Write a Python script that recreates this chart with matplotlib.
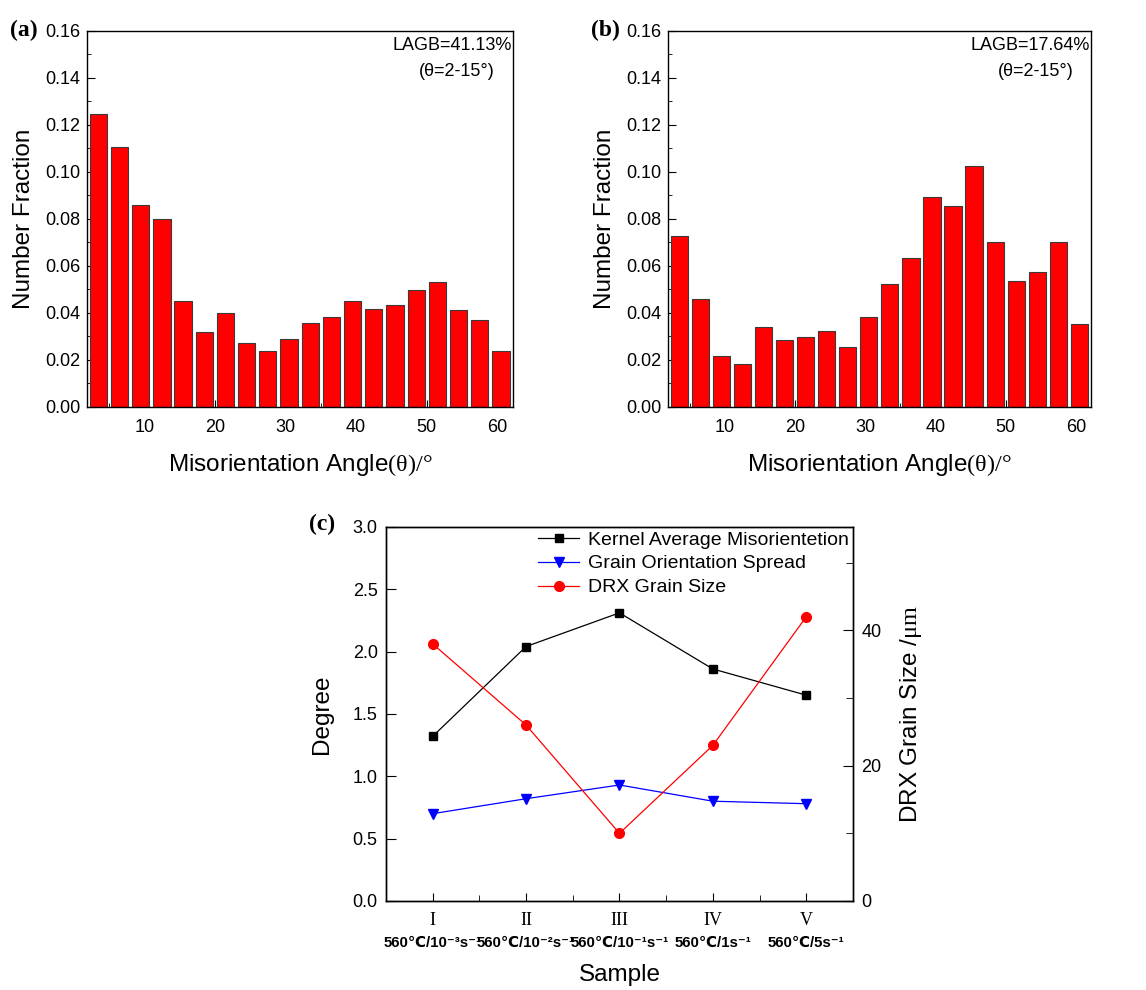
import numpy as np
import matplotlib
matplotlib.use("Agg")
import matplotlib.pyplot as plt
from matplotlib.ticker import MultipleLocator, FixedLocator, FormatStrFormatter

plt.rcParams['font.family'] = ['Liberation Sans', 'DejaVu Sans']
plt.rcParams['mathtext.fontset'] = 'custom'
plt.rcParams['mathtext.rm'] = 'Liberation Serif'
plt.rcParams['mathtext.it'] = 'Liberation Serif:italic'
plt.rcParams['mathtext.bf'] = 'Liberation Sans:bold'

# misorientation histograms, 3 degree bins starting at 2 degrees
bin_start = 2
bin_width = 3
frac_a = [0.1245, 0.1108, 0.0858, 0.0800, 0.0450, 0.0319, 0.0399, 0.0271, 0.0240, 0.0288,
          0.0357, 0.0383, 0.0451, 0.0417, 0.0433, 0.0498, 0.0532, 0.0414, 0.0369, 0.0238]
frac_b = [0.0726, 0.0458, 0.0218, 0.0183, 0.0339, 0.0287, 0.0298, 0.0325, 0.0257, 0.0383,
          0.0523, 0.0634, 0.0894, 0.0854, 0.1024, 0.0701, 0.0536, 0.0574, 0.0701, 0.0353]
lagb_a = "LAGB=41.13%"
lagb_b = "LAGB=17.64%"
lagb_range = "(θ=2-15°)"

# sample comparison
samples = ["I", "II", "III", "IV", "V"]
conditions = ["560℃/10⁻³s⁻¹", "560℃/10⁻²s⁻¹", "560℃/10⁻¹s⁻¹", "560℃/1s⁻¹", "560℃/5s⁻¹"]
kam = [1.32, 2.04, 2.31, 1.86, 1.65]
gos = [0.70, 0.82, 0.93, 0.80, 0.78]
drx_size = [38, 26, 10, 23, 42]

fig = plt.figure(figsize=(11.46, 9.9), dpi=100)
serif = ['Liberation Serif', 'DejaVu Serif']


def hist_panel(rect, frac, lagb, tag):
    ax = fig.add_axes(rect)
    n = len(frac)
    centers = bin_start + bin_width * (np.arange(n) + 0.5)
    ax.set_axisbelow(True)
    ax.bar(centers, frac, width=2.45, color='#ff0000', edgecolor='#3a3a3a', linewidth=0.8)
    ax.set_xlim(1.9, 62.2)
    ax.set_ylim(0, 0.16)
    ax.xaxis.set_major_locator(MultipleLocator(10))
    ax.xaxis.set_minor_locator(MultipleLocator(5))
    ax.yaxis.set_major_locator(MultipleLocator(0.02))
    ax.yaxis.set_minor_locator(MultipleLocator(0.01))
    ax.yaxis.set_major_formatter(FormatStrFormatter('%.2f'))
    ax.tick_params(which='both', direction='in', labelsize=13, top=False, right=False)
    ax.tick_params(axis='y', which='major', length=6, pad=5)
    ax.tick_params(axis='y', which='minor', length=3)
    ax.tick_params(axis='x', which='major', length=5, pad=9)
    ax.tick_params(axis='x', which='minor', length=3)
    for s in ax.spines.values():
        s.set_linewidth(1.0)
    ax.set_ylabel("Number Fraction", fontsize=17.5, labelpad=7)
    ax.set_xlabel(r"Misorientation Angle$\mathrm{(\theta)/°}$", fontsize=17.5, labelpad=11)
    ax.text(0.997, 0.985, lagb, transform=ax.transAxes, ha='right', va='top', fontsize=13)
    ax.text(0.868, 0.915, lagb_range, transform=ax.transAxes, ha='center', va='top', fontsize=13)
    fig.text(rect[0] - 0.067, rect[1] + rect[3] + 0.001, tag, fontsize=17, fontweight='bold',
             family=serif, va='center')
    return ax


hist_panel([0.0759, 0.5889, 0.3717, 0.3798], frac_a, lagb_a, "(a)")
hist_panel([0.5829, 0.5889, 0.3694, 0.3798], frac_b, lagb_b, "(b)")

# panel c: KAM/GOS on the left, DRX grain size on the right
rect_c = [0.3368, 0.0899, 0.4075, 0.378]
ax = fig.add_axes(rect_c)
ax2 = ax.twinx()
xs = np.arange(1, len(samples) + 1)
l1, = ax.plot(xs, kam, '-s', color='black', lw=0.9, ms=6, label="Kernel Average Misorientetion")
l2, = ax.plot(xs, gos, '-v', color='blue', lw=0.9, ms=7, label="Grain Orientation Spread")
l3, = ax2.plot(xs, drx_size, '-o', color='red', lw=0.9, ms=7, label="DRX Grain Size")
ax.set_xlim(0.5, 5.5)
ax.set_ylim(0, 3.0)
ax2.set_ylim(0, 55.3)
ax.yaxis.set_major_locator(MultipleLocator(0.5))
ax.xaxis.set_major_locator(FixedLocator(xs))
ax.xaxis.set_minor_locator(FixedLocator(xs[:-1] + 0.5))
ax2.yaxis.set_major_locator(MultipleLocator(20))
ax2.yaxis.set_minor_locator(MultipleLocator(10))
ax.set_xticklabels(samples, family=serif, fontsize=15)
ax.tick_params(which='both', direction='in', labelsize=13)
ax.tick_params(axis='y', length=7, pad=6)
ax.tick_params(axis='x', which='major', length=6, pad=8)
ax.tick_params(axis='x', which='minor', length=4)
ax2.tick_params(which='both', direction='in', labelsize=13, pad=6)
ax2.tick_params(which='major', length=7)
ax2.tick_params(which='minor', length=5)
for s in list(ax.spines.values()) + list(ax2.spines.values()):
    s.set_linewidth(1.0)
for xi, cond in zip(xs, conditions):
    ax.text(xi, -0.112, cond, transform=ax.get_xaxis_transform(), ha='center', va='center',
            fontsize=10.8, fontweight='bold')
ax.set_xlabel("Sample", fontsize=17.5, labelpad=25)
ax.set_ylabel("Degree", fontsize=17.5, labelpad=14)
ax2.set_ylabel(r"DRX Grain Size /$\mathrm{\mu m}$", fontsize=17.5, labelpad=12)
ax.legend(handles=[l1, l2, l3], loc='upper right', bbox_to_anchor=(1.02, 1.025), frameon=False,
          fontsize=14, handlelength=2.1, handletextpad=0.45, labelspacing=0.32, borderpad=0.2)
fig.text(0.2696, 0.4707, "(c)", fontsize=17, fontweight='bold', family=serif, va='center')

fig.savefig("out.png", dpi=100)
